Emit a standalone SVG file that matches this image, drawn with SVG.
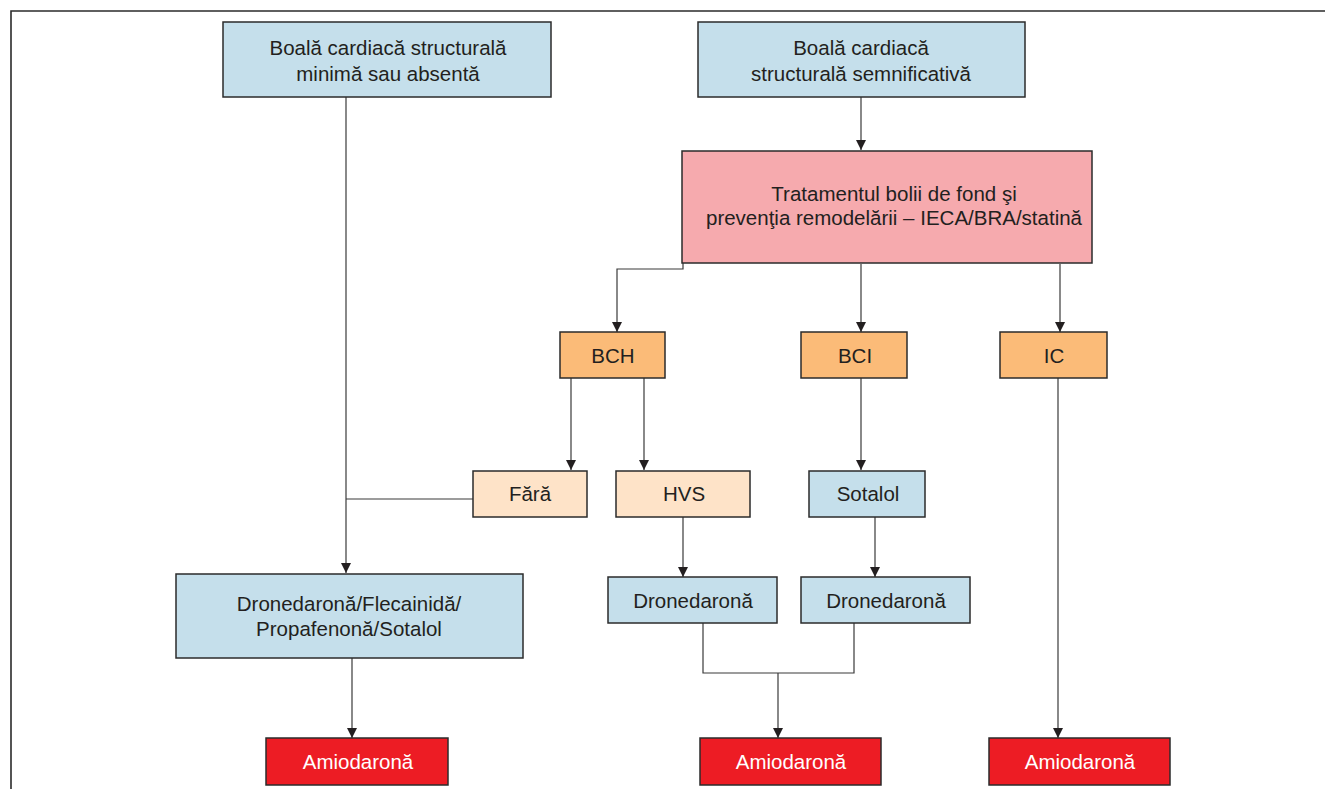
<svg xmlns="http://www.w3.org/2000/svg" width="1325" height="789" viewBox="0 0 1325 789">
<defs>
<marker id="ah" viewBox="0 0 10 10" refX="10" refY="5" markerWidth="10" markerHeight="10" markerUnits="userSpaceOnUse" orient="auto">
<path d="M0,0 L10,5 L0,10 Z" fill="#231f20"/>
</marker>
<style>
.box{stroke:#2b2b2b;stroke-width:1.5}
.blue{fill:#c5dfeb}
.pink{fill:#f6aaae}
.orange{fill:#fbbb78}
.peach{fill:#fee3c8}
.red{fill:#ed1c24}
.t{font-family:"Liberation Sans",Arial,sans-serif;font-size:20.5px;fill:#231f20;text-anchor:middle}
.w{fill:#ffffff}
.c{fill:none;stroke:#3a3a3a;stroke-width:1.2}
.frame{fill:none;stroke:#2b2b2b;stroke-width:1.6}
</style>
</defs>
<rect width="1325" height="789" fill="#ffffff"/>
<path class="frame" d="M11,789 V11 H1325"/>

<g id="connectors">
<path class="c" d="M346,97 V573" marker-end="url(#ah)"/>
<path class="c" d="M473,499 H346"/>
<path class="c" d="M861,97 V150" marker-end="url(#ah)"/>
<path class="c" d="M683,263 V269 H617 V332" marker-end="url(#ah)"/>
<path class="c" d="M861,264 V332" marker-end="url(#ah)"/>
<path class="c" d="M1060,264 V332" marker-end="url(#ah)"/>
<path class="c" d="M571,378 V470" marker-end="url(#ah)"/>
<path class="c" d="M644,378 V470" marker-end="url(#ah)"/>
<path class="c" d="M861,378 V470" marker-end="url(#ah)"/>
<path class="c" d="M683,517 V577" marker-end="url(#ah)"/>
<path class="c" d="M875,517 V577" marker-end="url(#ah)"/>
<path class="c" d="M352,658 V738" marker-end="url(#ah)"/>
<path class="c" d="M703,623 V673 H854 V623"/>
<path class="c" d="M778,673 V738" marker-end="url(#ah)"/>
<path class="c" d="M1058,378 V738" marker-end="url(#ah)"/>
</g>

<g id="n-minima">
<rect class="box blue" x="223" y="22" width="328" height="75"/>
<text class="t" x="388" y="55">Boală cardiacă structurală</text>
<text class="t" x="388" y="81">minimă sau absentă</text>
</g>
<g id="n-semnif">
<rect class="box blue" x="698" y="22" width="327" height="75"/>
<text class="t" x="861" y="55">Boală cardiacă</text>
<text class="t" x="861" y="81">structurală semnificativă</text>
</g>
<g id="n-trat">
<rect class="box pink" x="682" y="151" width="410" height="112"/>
<text class="t" x="894" y="201">Tratamentul bolii de fond şi</text>
<text class="t" x="894" y="225">prevenţia remodelării – IECA/BRA/statină</text>
</g>
<g id="n-bch">
<rect class="box orange" x="560" y="332" width="105" height="46"/>
<text class="t" x="613" y="363">BCH</text>
</g>
<g id="n-bci">
<rect class="box orange" x="801" y="332" width="106" height="46"/>
<text class="t" x="855" y="363">BCI</text>
</g>
<g id="n-ic">
<rect class="box orange" x="1000" y="332" width="107" height="46"/>
<text class="t" x="1054" y="363">IC</text>
</g>
<g id="n-fara">
<rect class="box peach" x="473" y="471" width="114" height="46"/>
<text class="t" x="530" y="501">Fără</text>
</g>
<g id="n-hvs">
<rect class="box peach" x="616" y="471" width="134" height="46"/>
<text class="t" x="684" y="501">HVS</text>
</g>
<g id="n-sotalol">
<rect class="box blue" x="809" y="471" width="116" height="46"/>
<text class="t" x="868" y="501">Sotalol</text>
</g>
<g id="n-dfps">
<rect class="box blue" x="176" y="574" width="347" height="84"/>
<text class="t" x="349" y="611">Dronedaronă/Flecainidă/</text>
<text class="t" x="349" y="636">Propafenonă/Sotalol</text>
</g>
<g id="n-drone1">
<rect class="box blue" x="608" y="577" width="169" height="46"/>
<text class="t" x="693" y="608">Dronedaronă</text>
</g>
<g id="n-drone2">
<rect class="box blue" x="801" y="577" width="169" height="46"/>
<text class="t" x="886" y="608">Dronedaronă</text>
</g>
<g id="n-amio1">
<rect class="box red" x="266" y="738" width="182" height="47"/>
<text class="t w" x="358" y="769">Amiodaronă</text>
</g>
<g id="n-amio2">
<rect class="box red" x="700" y="738" width="181" height="47"/>
<text class="t w" x="791" y="769">Amiodaronă</text>
</g>
<g id="n-amio3">
<rect class="box red" x="989" y="738" width="181" height="47"/>
<text class="t w" x="1080" y="769">Amiodaronă</text>
</g>
</svg>
